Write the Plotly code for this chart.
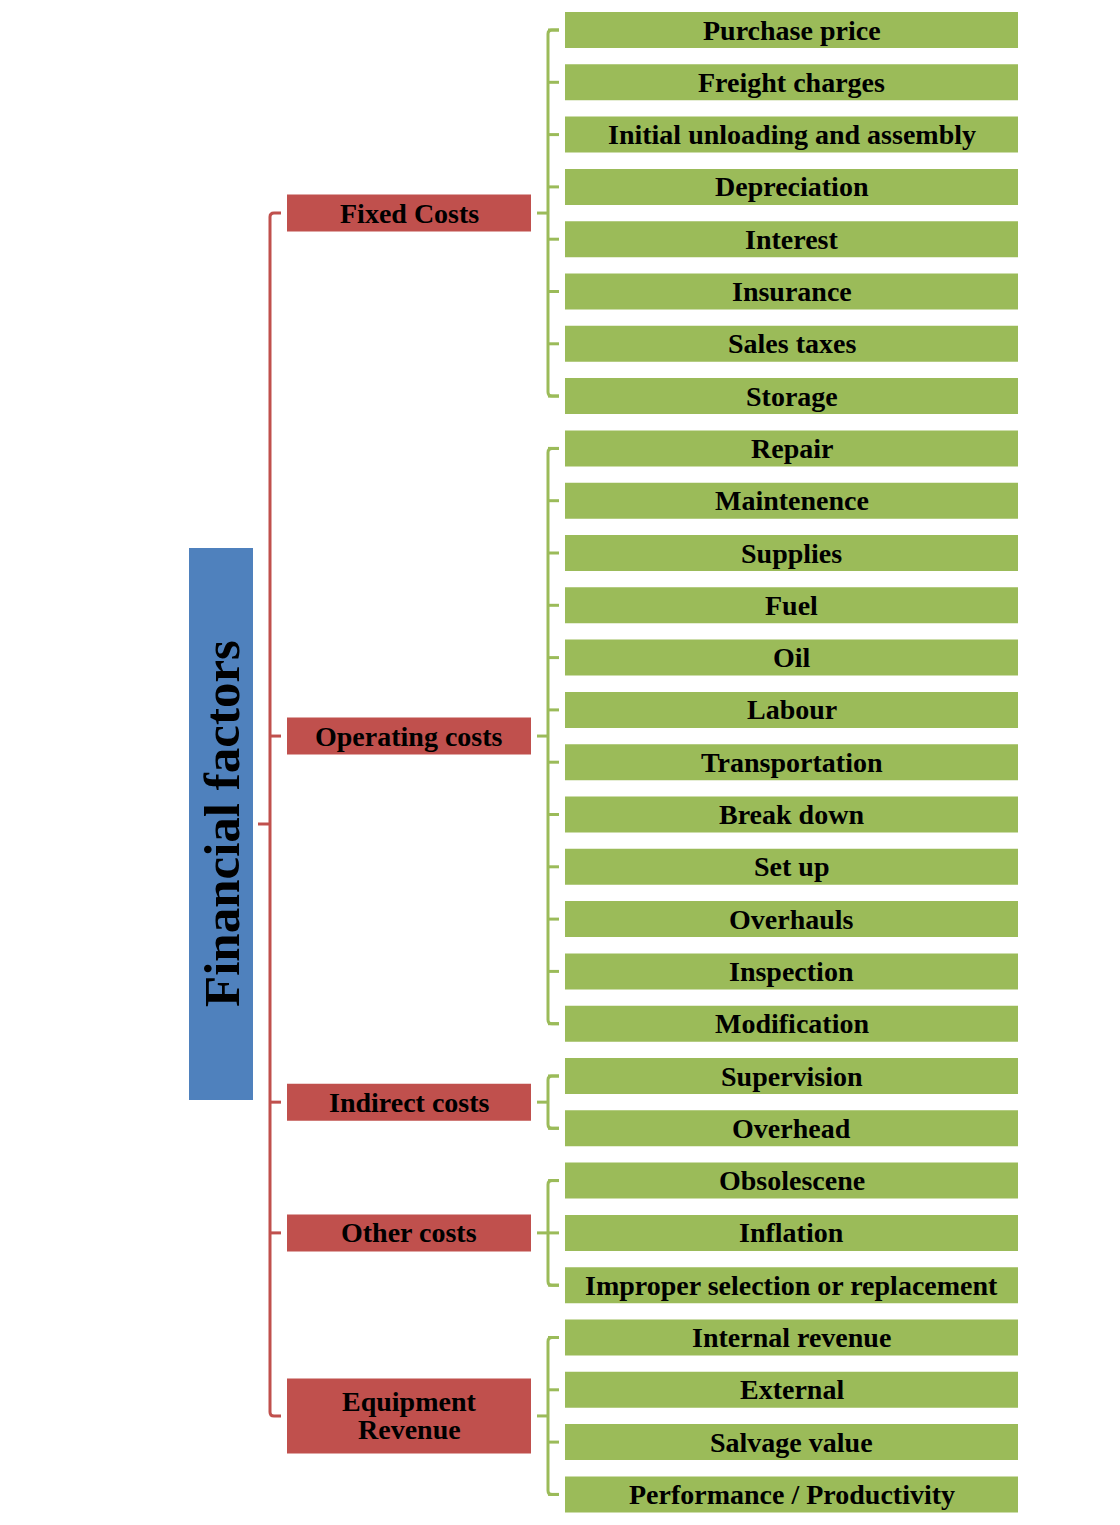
import plotly.graph_objects as go

# ---- data ----
root_label = "Financial factors"
group_labels = ["Fixed Costs", "Operating costs", "Indirect costs", "Other costs", "Equipment<br>Revenue"]
group_children = [
    ["Purchase price", "Freight charges", "Initial unloading and assembly", "Depreciation",
     "Interest", "Insurance", "Sales taxes", "Storage"],
    ["Repair", "Maintenence", "Supplies", "Fuel", "Oil", "Labour", "Transportation",
     "Break down", "Set up", "Overhauls", "Inspection", "Modification"],
    ["Supervision", "Overhead"],
    ["Obsolescene", "Inflation", "Improper selection or replacement"],
    ["Internal revenue", "External", "Salvage value", "Performance / Productivity"],
]

# ---- styling / layout constants ----
GREEN = "#9BBB59"
RED = "#C0504D"
BLUE = "#4F81BD"
FONT = "Liberation Serif"
W, H = 1120, 1525
PAD = 8  # default page body margin

leaf_x0, leaf_x1 = 565, 1018
leaf_y_first, leaf_step, leaf_h = 30.0, 52.3, 36
grp_x0, grp_x1 = 287, 531
grp_h = [37, 37, 37, 37, 75]
gbr_x = 548
rbr_x = 270
root_x0, root_x1, root_y0, root_y1 = 189, 253, 548, 1100
TXT = 28
LINE_GAP = 28

fig = go.Figure()
shapes = []
annotations = []

leaf_index = 0
group_centers = []
for gi, (glabel, children) in enumerate(zip(group_labels, group_children)):
    centers = []
    for child in children:
        cy = leaf_y_first + leaf_step * leaf_index
        centers.append(cy)
        shapes.append(dict(type="rect", x0=leaf_x0, x1=leaf_x1, y0=cy - leaf_h / 2, y1=cy + leaf_h / 2,
                           fillcolor=GREEN, line=dict(width=0), layer="below"))
        annotations.append(dict(x=(leaf_x0 + leaf_x1) / 2, y=cy, text="<b>%s</b>" % child,
                                showarrow=False, font=dict(family=FONT, size=TXT, color="black"),
                                xanchor="center", yanchor="middle"))
        shapes.append(dict(type="line", x0=gbr_x, x1=559, y0=cy, y1=cy,
                           line=dict(color=GREEN, width=3)))
        leaf_index += 1
    y_top, y_bot = centers[0], centers[-1]
    gc = (y_top + y_bot) / 2
    group_centers.append(gc)
    r = 4
    shapes.append(dict(type="path",
                       path="M %f %f L %f %f Q %f %f %f %f L %f %f Q %f %f %f %f L %f %f" % (
                           559, y_top, gbr_x + r, y_top, gbr_x, y_top, gbr_x, y_top + r,
                           gbr_x, y_bot - r, gbr_x, y_bot, gbr_x + r, y_bot, 559, y_bot),
                       line=dict(color=GREEN, width=3)))
    shapes.append(dict(type="line", x0=537, x1=gbr_x, y0=gc, y1=gc, line=dict(color=GREEN, width=3)))
    h = grp_h[gi]
    shapes.append(dict(type="rect", x0=grp_x0, x1=grp_x1, y0=gc - h / 2, y1=gc + h / 2,
                       fillcolor=RED, line=dict(width=0)))
    lines = glabel.split("<br>")
    n = len(lines)
    for li, ln in enumerate(lines):
        annotations.append(dict(x=(grp_x0 + grp_x1) / 2, y=gc + (li - (n - 1) / 2) * LINE_GAP,
                                text="<b>%s</b>" % ln, showarrow=False,
                                font=dict(family=FONT, size=TXT, color="black"),
                                xanchor="center", yanchor="middle"))

# red bracket
yt, yb = group_centers[0], group_centers[-1]
r = 4
shapes.append(dict(type="path",
                   path="M %f %f L %f %f Q %f %f %f %f L %f %f Q %f %f %f %f L %f %f" % (
                       281, yt, rbr_x + r, yt, rbr_x, yt, rbr_x, yt + r,
                       rbr_x, yb - r, rbr_x, yb, rbr_x + r, yb, 281, yb),
                   line=dict(color=RED, width=3)))
for gc in group_centers[1:-1]:
    shapes.append(dict(type="line", x0=rbr_x, x1=281, y0=gc, y1=gc, line=dict(color=RED, width=3)))
root_c = (root_y0 + root_y1) / 2
shapes.append(dict(type="line", x0=258, x1=rbr_x, y0=root_c, y1=root_c, line=dict(color=RED, width=3)))

shapes.append(dict(type="rect", x0=root_x0, x1=root_x1, y0=root_y0, y1=root_y1,
                   fillcolor=BLUE, line=dict(width=0)))
annotations.append(dict(x=(root_x0 + root_x1) / 2 + 1, y=root_c, text="<b>%s</b>" % root_label,
                        showarrow=False, textangle=-90, font=dict(family=FONT, size=51, color="black"),
                        xanchor="center", yanchor="middle"))

fig.update_layout(
    width=W - PAD, height=H - PAD, margin=dict(l=0, r=0, t=0, b=0),
    paper_bgcolor="white", plot_bgcolor="white",
    xaxis=dict(range=[PAD, W], visible=False, fixedrange=True),
    yaxis=dict(range=[H, PAD], visible=False, fixedrange=True),
    shapes=shapes, annotations=annotations, showlegend=False,
)
fig.write_html("out.html")
